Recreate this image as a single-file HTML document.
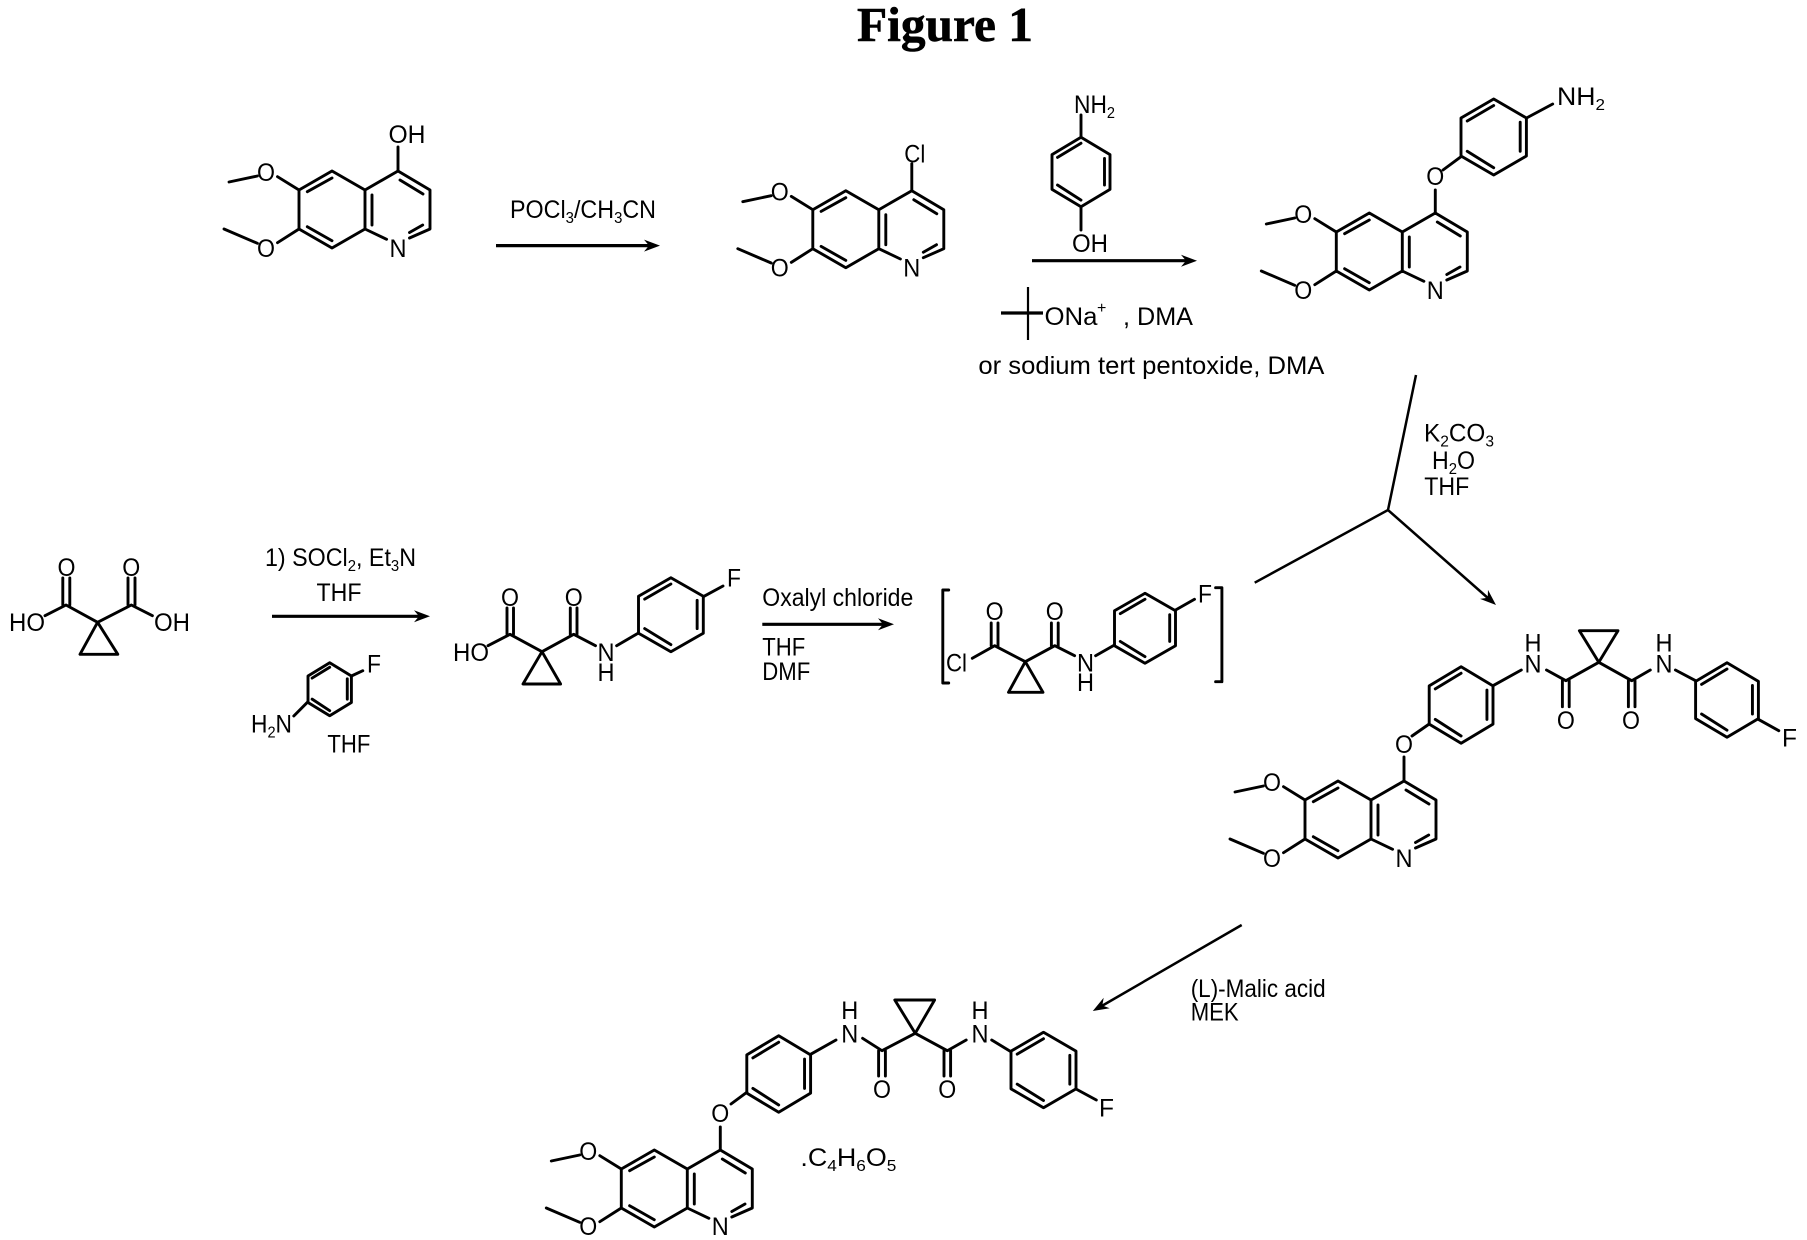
<!DOCTYPE html>
<html><head><meta charset="utf-8"><title>Figure 1</title>
<style>
html,body{margin:0;padding:0;background:#fff}
svg{display:block}
text{font-family:"Liberation Sans",sans-serif;font-size:25px;fill:#000}
.m{text-anchor:middle}
.s{font-size:16px}
.b{fill:none;stroke:#000;stroke-width:2.9;stroke-linecap:round;stroke-linejoin:round}
.t{font-family:"Liberation Serif",serif;font-weight:bold;font-size:49px;stroke:#000;stroke-width:.6}
.ar{fill:none;stroke:#000;stroke-width:3.2}
</style></head><body>
<svg xmlns="http://www.w3.org/2000/svg" width="1807" height="1240" viewBox="0 0 1807 1240">
<rect width="1807" height="1240" fill="#fff"/>
<defs>
<path id="ring" vector-effect="non-scaling-stroke" class="b" d="M0-1L1-.5L1 .5L0 1L-1 .5L-1-.5ZM-.81-.42L0-.83M.81-.39L.81 .375M-.81 .375L0 .81"/>
<path id="q" class="b" d="M0 0L32 19L32 58L11.5 67M2 9L25 23M24.7 54L11.5 61.5M-11.4 68.3L-33 58L-33 19L0 0M-26 24L-26 54M-33 19L-66 0L-99 19L-99 58L-66 77L-33 58M-66 7L-90.7 20.7M-90.7 55.7L-66 69.7M-99 19L-120.5 5.7M-99 58L-120.5 71.7M-140.6 5L-169 11M-140.6 72.3L-174 58"/>
<path id="h" d="M0 0L-16-6L-11 0L-16 6Z" fill="#000"/>
</defs>

<text class="t" x="857" y="41" textLength="176" lengthAdjust="spacingAndGlyphs">Figure 1</text>

<!-- Molecule 1 -->
<g transform="translate(398,171)"><use href="#q"/>
<path class="b" d="M0 0V-24"/>
<text class="m" x="0" y="86" textLength="17" lengthAdjust="spacingAndGlyphs">N</text><text class="m" x="-132" y="10" textLength="18" lengthAdjust="spacingAndGlyphs">O</text><text class="m" x="-132" y="86" textLength="18" lengthAdjust="spacingAndGlyphs">O</text>
<text class="m" x="9" y="-28" textLength="37" lengthAdjust="spacingAndGlyphs">OH</text></g>

<path class="ar" d="M496 245.6H650"/><use href="#h" transform="translate(660,245.6)"/>
<text x="510" y="218" textLength="146" lengthAdjust="spacingAndGlyphs">POCl<tspan class="s" dy="5">3</tspan><tspan dy="-5">/CH</tspan><tspan class="s" dy="5">3</tspan><tspan dy="-5">CN</tspan></text>

<!-- Molecule 2 -->
<g transform="translate(911.8,190.7)"><use href="#q"/>
<path class="b" d="M0 0V-27"/>
<text class="m" x="0" y="86" textLength="17" lengthAdjust="spacingAndGlyphs">N</text><text class="m" x="-132" y="10" textLength="18" lengthAdjust="spacingAndGlyphs">O</text><text class="m" x="-132" y="86" textLength="18" lengthAdjust="spacingAndGlyphs">O</text>
<text class="m" x="3" y="-28" textLength="21" lengthAdjust="spacingAndGlyphs">Cl</text></g>

<!-- 4-aminophenol and reagents -->
<use href="#ring" transform="translate(1081,172) scale(29,34.7)"/>
<path class="b" d="M1081 137.3V115M1081 206.7V230"/>
<text x="1074" y="113" textLength="41" lengthAdjust="spacingAndGlyphs">NH<tspan class="s" dy="5">2</tspan></text>
<text x="1072" y="252" textLength="36" lengthAdjust="spacingAndGlyphs">OH</text>
<path class="ar" d="M1032 260.7H1186"/><use href="#h" transform="translate(1197,260.7)"/>
<path d="M1028 287V340" stroke="#000" stroke-width="2.2" fill="none"/>
<path d="M1001 313H1043" stroke="#000" stroke-width="3.2" fill="none"/>
<text x="1044.5" y="325" textLength="53" lengthAdjust="spacingAndGlyphs">ONa</text>
<text x="1097" y="313" class="s">+</text>
<text x="1123" y="325" textLength="70" lengthAdjust="spacingAndGlyphs">, DMA</text>
<text x="978.4" y="374" textLength="346" lengthAdjust="spacingAndGlyphs">or sodium tert pentoxide, DMA</text>

<!-- Molecule 3 -->
<g transform="translate(1435.3,213)"><use href="#q"/>
<path class="b" d="M0 0V-23"/>
<text class="m" x="0" y="86" textLength="17" lengthAdjust="spacingAndGlyphs">N</text><text class="m" x="-132" y="10" textLength="18" lengthAdjust="spacingAndGlyphs">O</text><text class="m" x="-132" y="86" textLength="18" lengthAdjust="spacingAndGlyphs">O</text>
<text class="m" x="0" y="-28" textLength="18" lengthAdjust="spacingAndGlyphs">O</text></g>
<use href="#ring" transform="translate(1493.7,137) scale(32.7,38)"/>
<path class="b" d="M1461 156.7L1443 170M1526.5 118L1552.7 104"/>
<text x="1557" y="105" textLength="48" lengthAdjust="spacingAndGlyphs">NH<tspan class="s" dy="5">2</tspan></text>

<!-- Branching arrow -->
<path d="M1416 375L1388 510M1254.7 582.7L1388 510L1489 599" fill="none" stroke="#000" stroke-width="2.5"/>
<use href="#h" transform="translate(1496,605) rotate(41.4)"/>
<text x="1424" y="441.7" textLength="70" lengthAdjust="spacingAndGlyphs">K<tspan class="s" dy="5">2</tspan><tspan dy="-5">CO</tspan><tspan class="s" dy="5">3</tspan></text>
<text x="1432" y="469" textLength="43" lengthAdjust="spacingAndGlyphs">H<tspan class="s" dy="5">2</tspan><tspan dy="-5">O</tspan></text>
<text x="1424.3" y="495" textLength="45" lengthAdjust="spacingAndGlyphs">THF</text>

<!-- Diacid -->
<path class="b" d="M80 654.3L117.8 654.3L97.6 622.3ZM97.6 622.3L66 605L45 615.7M97.6 622.3L131.3 605L152.4 615.7M62.8 605V578M69.8 605V578M128 605V578M135 605V578"/>
<text class="m" x="66.5" y="576" textLength="18" lengthAdjust="spacingAndGlyphs">O</text><text class="m" x="131.3" y="576" textLength="18" lengthAdjust="spacingAndGlyphs">O</text>
<text x="9" y="631" textLength="36" lengthAdjust="spacingAndGlyphs">HO</text><text x="154" y="631" textLength="36" lengthAdjust="spacingAndGlyphs">OH</text>

<path class="ar" d="M272 616.3H420"/><use href="#h" transform="translate(430,616.3)"/>
<text x="265" y="566" textLength="151" lengthAdjust="spacingAndGlyphs">1) SOCl<tspan class="s" dy="5">2</tspan><tspan dy="-5">, Et</tspan><tspan class="s" dy="5">3</tspan><tspan dy="-5">N</tspan></text>
<text x="316.5" y="601" textLength="45" lengthAdjust="spacingAndGlyphs">THF</text>

<!-- 4-fluoroaniline -->
<use href="#ring" transform="translate(329.7,689.2) scale(21.7,26.5)"/>
<path class="b" d="M351.4 676L362.8 670.7M308 701.7L293.8 716"/>
<text x="367" y="672.7" textLength="14" lengthAdjust="spacingAndGlyphs">F</text>
<text x="251" y="732.7" textLength="41" lengthAdjust="spacingAndGlyphs">H<tspan class="s" dy="5">2</tspan><tspan dy="-5">N</tspan></text>
<text x="327.4" y="752.7" textLength="43" lengthAdjust="spacingAndGlyphs">THF</text>

<!-- Acid amide -->
<path class="b" d="M523 684L560.6 684L542 651.7ZM542 651.7L510 634.3L488 645.7M542 651.7L573.7 634.3L595.5 645.7M507 634.3V608M513.5 634.3V608M570.3 634.3V608M577 634.3V608M616.6 645.7L638.5 633"/>
<text class="m" x="510" y="606" textLength="18" lengthAdjust="spacingAndGlyphs">O</text><text class="m" x="573.7" y="606" textLength="18" lengthAdjust="spacingAndGlyphs">O</text>
<text x="453" y="661" textLength="36" lengthAdjust="spacingAndGlyphs">HO</text>
<text class="m" x="606" y="661" textLength="17" lengthAdjust="spacingAndGlyphs">N</text><text class="m" x="606" y="681" textLength="17" lengthAdjust="spacingAndGlyphs">H</text>
<use href="#ring" transform="translate(670.9,614.7) scale(32.4,37)"/>
<path class="b" d="M703.3 596.7L723 586"/>
<text x="727" y="586.7" textLength="14" lengthAdjust="spacingAndGlyphs">F</text>

<path class="ar" d="M762.3 624.3H884"/><use href="#h" transform="translate(894,624.3)"/>
<text x="762.3" y="606" textLength="151" lengthAdjust="spacingAndGlyphs">Oxalyl chloride</text>
<text x="762.3" y="655.7" textLength="43" lengthAdjust="spacingAndGlyphs">THF</text>
<text x="762.3" y="680" textLength="48" lengthAdjust="spacingAndGlyphs">DMF</text>

<!-- Acid chloride in brackets -->
<path class="b" d="M948.7 590H942.8V683H948.7M1215.6 587.7H1221.9V681.7H1215.6"/>
<path class="b" d="M1008.5 692.3L1043 692.3L1025.3 661.7ZM1025.3 661.7L994.6 645.7L972.3 658.3M1025.3 661.7L1054.8 645.7L1074.6 655.7M991.2 645.7V623M998 645.7V623M1051.4 645.7V623M1058.2 645.7V623M1095.6 655.7L1114.5 645"/>
<text class="m" x="994.6" y="620" textLength="18" lengthAdjust="spacingAndGlyphs">O</text><text class="m" x="1054.8" y="620" textLength="18" lengthAdjust="spacingAndGlyphs">O</text>
<text x="946" y="671.7" textLength="21" lengthAdjust="spacingAndGlyphs">Cl</text>
<text class="m" x="1085.5" y="671.7" textLength="17" lengthAdjust="spacingAndGlyphs">N</text><text class="m" x="1085.5" y="691" textLength="17" lengthAdjust="spacingAndGlyphs">H</text>
<use href="#ring" transform="translate(1145,628.3) scale(30.5,35)"/>
<path class="b" d="M1175.6 610L1194.5 599.3"/>
<text x="1198" y="602.7" textLength="14" lengthAdjust="spacingAndGlyphs">F</text>

<!-- Product 4 -->
<g transform="translate(1404,781)"><use href="#q"/>
<path class="b" d="M0 0V-24"/>
<text class="m" x="0" y="86" textLength="17" lengthAdjust="spacingAndGlyphs">N</text><text class="m" x="-132" y="10" textLength="18" lengthAdjust="spacingAndGlyphs">O</text><text class="m" x="-132" y="86" textLength="18" lengthAdjust="spacingAndGlyphs">O</text>
<text class="m" x="0" y="-28" textLength="18" lengthAdjust="spacingAndGlyphs">O</text></g>
<use href="#ring" transform="translate(1461.1,705) scale(31.9,38.3)"/>
<path class="b" d="M1429.2 724L1412 736M1493 685.7L1521.3 670M1546.5 670L1565.9 680.7L1598.8 662.3L1631.7 680.7L1650.3 670M1579.4 630.7H1618L1598.8 662.3ZM1562.4 680.7V706.7M1569.2 680.7V706.7M1628.4 680.7V706.7M1635 680.7V706.7M1675.4 670L1695.6 680.7M1758.3 719.3L1778.8 730.7"/>
<use href="#ring" transform="translate(1727,700) scale(31.4,37.3)"/>
<text class="m" x="1533" y="672.7" textLength="17" lengthAdjust="spacingAndGlyphs">N</text><text class="m" x="1533" y="651.7" textLength="17" lengthAdjust="spacingAndGlyphs">H</text>
<text class="m" x="1664" y="672.7" textLength="17" lengthAdjust="spacingAndGlyphs">N</text><text class="m" x="1664" y="651.7" textLength="17" lengthAdjust="spacingAndGlyphs">H</text>
<text class="m" x="1565.9" y="729" textLength="18" lengthAdjust="spacingAndGlyphs">O</text><text class="m" x="1631" y="729" textLength="18" lengthAdjust="spacingAndGlyphs">O</text>
<text x="1782" y="746.7" textLength="15" lengthAdjust="spacingAndGlyphs">F</text>

<!-- Final arrow -->
<path d="M1241.7 925L1100 1007" fill="none" stroke="#000" stroke-width="2.5"/>
<use href="#h" transform="translate(1092.8,1011) rotate(150)"/>
<text x="1190.7" y="997" textLength="135" lengthAdjust="spacingAndGlyphs">(L)-Malic acid</text>
<text x="1190.7" y="1020.7" textLength="48" lengthAdjust="spacingAndGlyphs">MEK</text>

<!-- Final product -->
<g transform="translate(720.3,1150)"><use href="#q"/>
<path class="b" d="M0 0V-23"/>
<text class="m" x="0" y="85" textLength="17" lengthAdjust="spacingAndGlyphs">N</text><text class="m" x="-132" y="10" textLength="18" lengthAdjust="spacingAndGlyphs">O</text><text class="m" x="-132" y="85" textLength="18" lengthAdjust="spacingAndGlyphs">O</text>
<text class="m" x="0" y="-28" textLength="18" lengthAdjust="spacingAndGlyphs">O</text></g>
<use href="#ring" transform="translate(778.7,1074) scale(31.9,38.3)"/>
<path class="b" d="M746.8 1092.3L731 1104M810.6 1054.3L836 1040M862.6 1038.3L882 1050.7L915.2 1033.3L947.3 1050.7L966.2 1040M894.8 1000H934.6L915.2 1033.3ZM878.6 1050.7V1076M885.4 1050.7V1076M944 1050.7V1076M950.6 1050.7V1076M991.7 1040L1011 1051.7M1076 1089L1096.3 1100"/>
<use href="#ring" transform="translate(1043.5,1070) scale(32.5,37.7)"/>
<text class="m" x="849.8" y="1042.3" textLength="17" lengthAdjust="spacingAndGlyphs">N</text><text class="m" x="849.8" y="1019" textLength="17" lengthAdjust="spacingAndGlyphs">H</text>
<text class="m" x="980" y="1042.3" textLength="17" lengthAdjust="spacingAndGlyphs">N</text><text class="m" x="980" y="1019" textLength="17" lengthAdjust="spacingAndGlyphs">H</text>
<text class="m" x="882" y="1098" textLength="18" lengthAdjust="spacingAndGlyphs">O</text><text class="m" x="947.3" y="1098" textLength="18" lengthAdjust="spacingAndGlyphs">O</text>
<text x="1099" y="1116.7" textLength="15" lengthAdjust="spacingAndGlyphs">F</text>
<text x="800.4" y="1166" textLength="96" lengthAdjust="spacingAndGlyphs">.C<tspan class="s" dy="5">4</tspan><tspan dy="-5">H</tspan><tspan class="s" dy="5">6</tspan><tspan dy="-5">O</tspan><tspan class="s" dy="5">5</tspan></text>
</svg>
</body></html>
